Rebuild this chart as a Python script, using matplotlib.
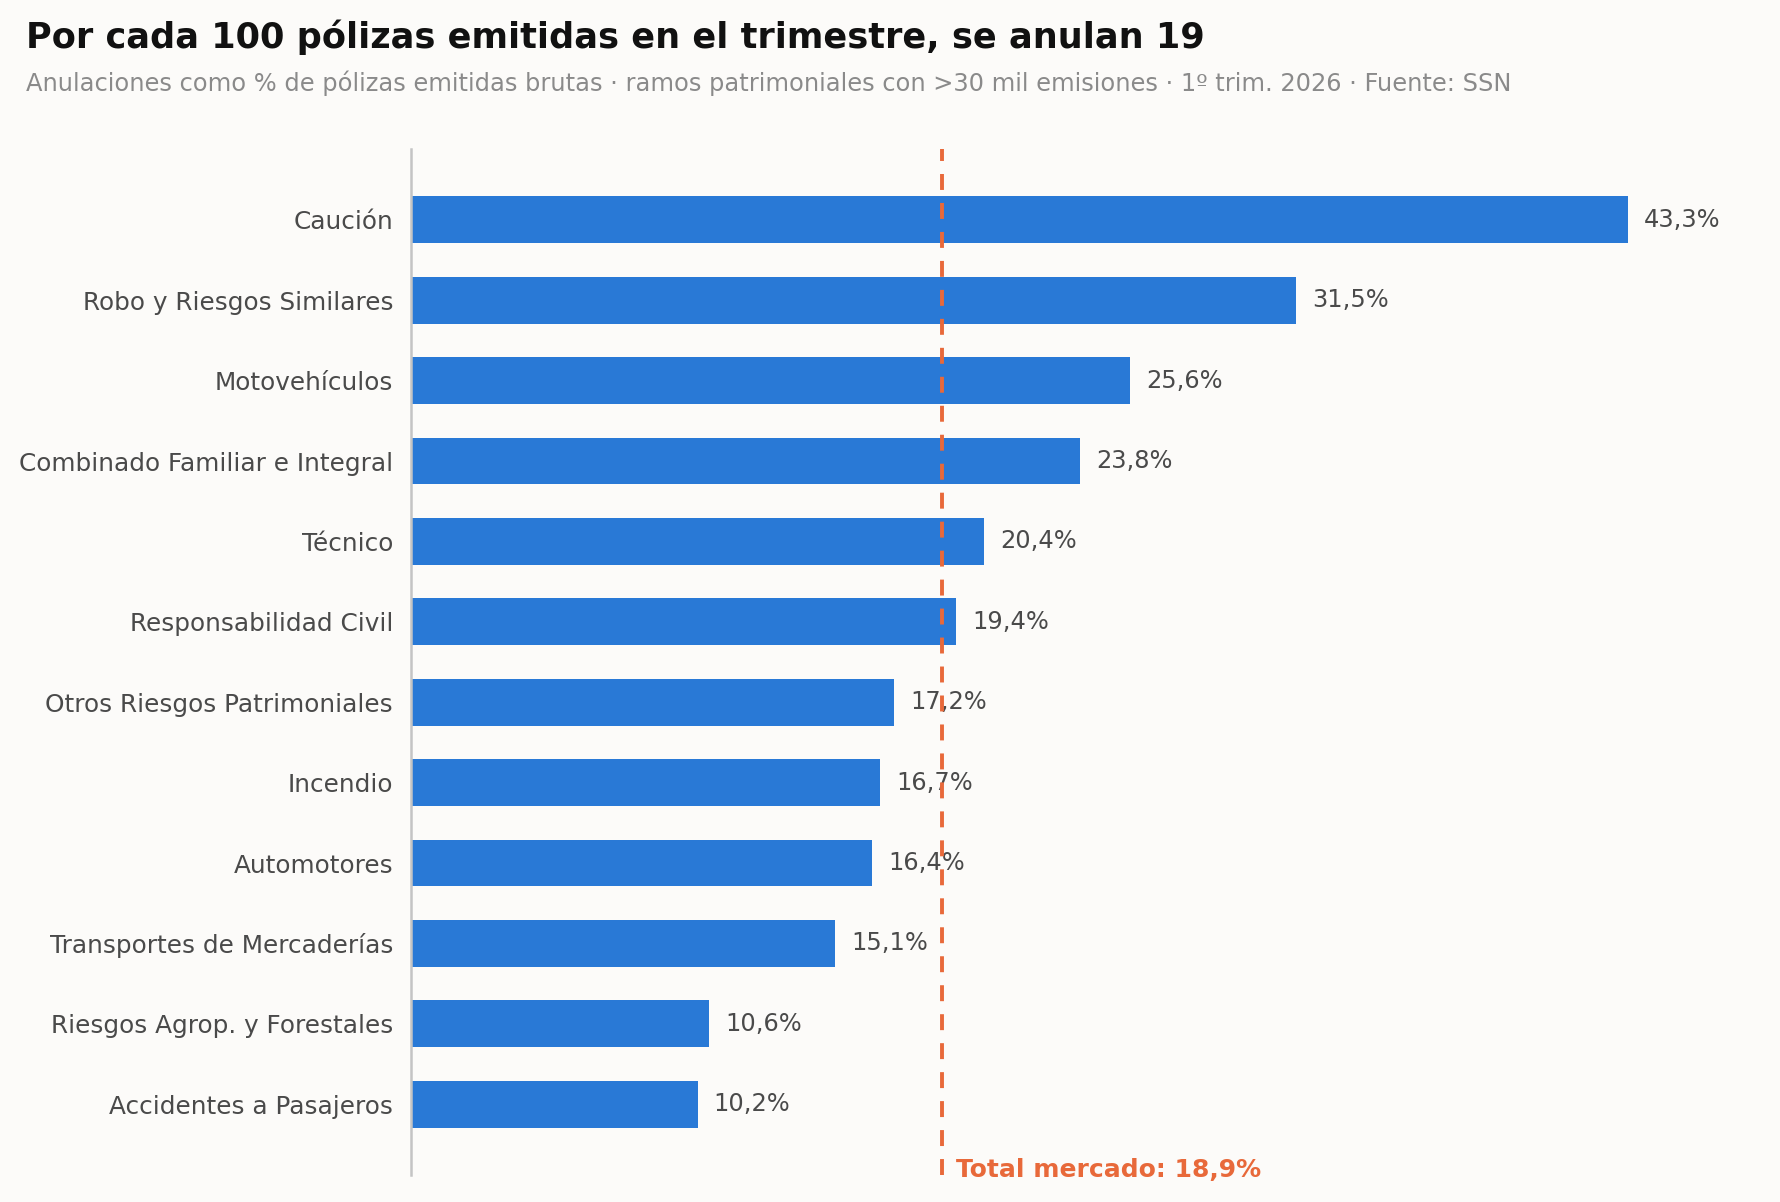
import matplotlib
matplotlib.use("Agg")
import matplotlib.pyplot as plt
import matplotlib.transforms as mtransforms

categories = ["Caución", "Robo y Riesgos Similares", "Motovehículos",
              "Combinado Familiar e Integral", "Técnico", "Responsabilidad Civil",
              "Otros Riesgos Patrimoniales", "Incendio", "Automotores",
              "Transportes de Mercaderías", "Riesgos Agrop. y Forestales",
              "Accidentes a Pasajeros"]
values = [43.3, 31.5, 25.6, 23.8, 20.4, 19.4, 17.2, 16.7, 16.4, 15.1, 10.6, 10.2]
total_mercado = 18.9

title = "Por cada 100 pólizas emitidas en el trimestre, se anulan 19"
subtitle = ("Anulaciones como % de pólizas emitidas brutas · ramos patrimoniales con >30 mil "
            "emisiones · 1º trim. 2026 · Fuente: SSN")

bg = "#fcfbf9"
bar_color = "#2979d6"
line_color = "#e8693a"
text_color = "#4a4a4a"

plt.rcParams['font.family'] = ['DejaVu Sans']
fig = plt.figure(figsize=(17.8, 12.02), dpi=100, facecolor=bg)
ax = fig.add_axes([0.231, 0.0225, 0.749, 0.8535], facecolor=bg)

y = list(range(len(categories)))
ax.barh(y, values, height=0.58, color=bar_color, zorder=2)
ax.set_yticks(y)
ax.set_yticklabels(categories, fontsize=17.8, color=text_color)
ax.tick_params(axis='y', length=0, pad=13)
ax.set_xticks([])
ax.set_xlim(0, 47.45)
ax.set_ylim(len(categories) - 1 + 0.88, -0.88)

for s in ["top", "right", "bottom"]:
    ax.spines[s].set_visible(False)
ax.spines["left"].set_color("#c4c4c4")
ax.spines["left"].set_linewidth(1.8)

for yi, v in zip(y, values):
    ax.text(v + 0.57, yi, f"{v:.1f}%".replace(".", ","), va="center", ha="left",
            fontsize=17.4, color=text_color, zorder=3)

ax.axvline(total_mercado, color=line_color, lw=2.8, dashes=(4.1, 3.35), zorder=4)
trans = mtransforms.blended_transform_factory(ax.transData, ax.transAxes)
ax.text(total_mercado + 0.5, -0.007, f"Total mercado: {total_mercado:.1f}%".replace(".", ","),
        transform=trans, ha="left", va="bottom", fontsize=18, fontweight="bold",
        color=line_color)

fig.text(0.0146, 0.969, title, fontsize=25.3, fontweight="bold", color="#111111",
         ha="left", va="center")
fig.text(0.0146, 0.931, subtitle, fontsize=17.4, color="#8a8a8a", ha="left", va="center")

fig.savefig("out.png", dpi=100, facecolor=bg)
